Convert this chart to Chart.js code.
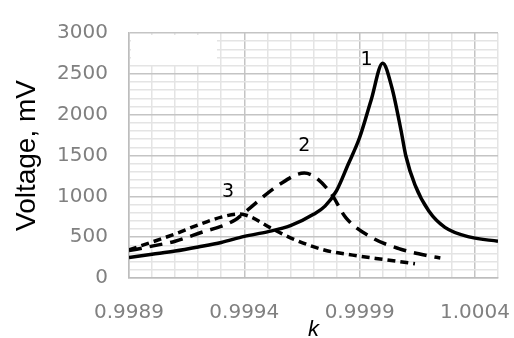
<!DOCTYPE html>
<html>
<head>
<meta charset="utf-8">
<script src="https://cdn.jsdelivr.net/npm/chart.js@4.4.1/dist/chart.umd.min.js"></script>
<style>
  html, body { margin: 0; padding: 0; background: #ffffff; }
  #wrap { width: 514px; height: 338px; position: relative; }
</style>
</head>
<body>
<div id="wrap"><canvas id="c" width="514" height="338"></canvas></div>
<script>
// ---- data ----
const k1 = [0.9989, 0.9990, 0.9991, 0.9992, 0.9993, 0.9994, 0.9995, 0.9996, 0.9997, 0.99975, 0.9998, 0.99985, 0.9999, 0.99995, 1.0000, 1.00004, 1.00008, 1.0001, 1.00014, 1.0002, 1.00027, 1.00038, 1.0005];
const v1 = [250, 290, 330, 380, 435, 510, 565, 640, 780, 880, 1070, 1390, 1720, 2180, 2630, 2330, 1800, 1500, 1140, 820, 620, 500, 450];

const k2 = [0.9989, 0.9990, 0.9991, 0.9992, 0.99936, 0.9994, 0.99955, 0.99966, 0.99977, 0.99984, 0.99995, 1.00007, 1.0002, 1.00025];
const v2 = [335, 390, 450, 545, 710, 800, 1140, 1285, 1060, 740, 500, 360, 270, 245];

const k3 = [0.9989, 0.9990, 0.9991, 0.9992, 0.9993, 0.99938, 0.99943, 0.99951, 0.99961, 0.99975, 0.99987, 0.99997, 1.00006, 1.00014];
const v3 = [345, 440, 540, 650, 745, 785, 745, 620, 480, 340, 280, 240, 205, 175];

const curveNames = ['1', '2', '3'];
const nameK = [0.99993, 0.99966, 0.99933];
const nameV = [2667, 1617, 1056];

const xTickLabels = [0.9989, 0.9994, 0.9999, 1.0004];
const xMin = 0.9989, xMax = 1.0005, xMinorStep = 0.0001;
const yTickLabels = [0, 500, 1000, 1500, 2000, 2500, 3000];
const yMin = 0, yMax = 3000, yMinorStep = 100;

function pts(ks, vs) { return ks.map((k, i) => ({ x: k, y: vs[i] })); }
function isMajorX(v) { return xTickLabels.some(t => Math.abs(t - v) < 1e-7); }
function isMajorY(v) { return yTickLabels.some(t => Math.abs(t - v) < 1e-7); }

const curveLabels = {
  id: 'curveLabels',
  beforeDatasetsDraw(chart) {
    // blank (erased) legend box in the top-left corner of the plot
    const a = chart.chartArea, ctx = chart.ctx;
    ctx.save();
    ctx.fillStyle = '#ffffff';
    ctx.fillRect(a.left + 2, a.top + 2, 86, 30);
    ctx.restore();
  },
  afterDatasetsDraw(chart) {
    const ctx = chart.ctx, xs = chart.scales.x, ys = chart.scales.y;
    ctx.save();
    ctx.font = '19px "DejaVu Sans", sans-serif';
    ctx.fillStyle = '#000000';
    ctx.textAlign = 'center';
    ctx.textBaseline = 'middle';
    curveNames.forEach((n, i) => {
      ctx.fillText(n, xs.getPixelForValue(nameK[i]), ys.getPixelForValue(nameV[i]));
    });
    ctx.restore();
  }
};

new Chart(document.getElementById('c'), {
  type: 'scatter',
  data: {
    datasets: [
      { label: '1', data: pts(k1, v1), showLine: true, borderColor: '#000', borderWidth: 3.5, pointRadius: 0, cubicInterpolationMode: 'monotone', fill: false },
      { label: '2', data: pts(k2, v2), showLine: true, borderColor: '#000', borderWidth: 3.5, borderDash: [13, 8], pointRadius: 0, cubicInterpolationMode: 'monotone', fill: false },
      { label: '3', data: pts(k3, v3), showLine: true, borderColor: '#000', borderWidth: 3.5, borderDash: [8, 5], pointRadius: 0, cubicInterpolationMode: 'monotone', fill: false }
    ]
  },
  options: {
    responsive: false,
    animation: false,
    devicePixelRatio: 1,
    layout: { padding: { top: 27, right: 16, bottom: 0, left: 0 } },
    plugins: { legend: { display: false }, tooltip: { enabled: false } },
    scales: {
      x: {
        type: 'linear',
        min: xMin, max: xMax,
        afterBuildTicks(scale) {
          const t = [];
          const n = Math.round((xMax - xMin) / xMinorStep);
          for (let i = 0; i <= n; i++) t.push({ value: Math.round((xMin + i * xMinorStep) * 1e5) / 1e5 });
          scale.ticks = t;
        },
        afterFit(scale) { scale.height = 60; scale.paddingLeft = 0; scale.paddingRight = 0; },
        ticks: {
          autoSkip: false,
          maxRotation: 0,
          padding: 23,
          color: '#808080',
          font: { family: '"DejaVu Sans", sans-serif', size: 20 },
          callback(v) { return isMajorX(v) ? v.toFixed(4) : ''; }
        },
        grid: {
          drawTicks: false,
          color(ctx) { return ctx.tick && isMajorX(ctx.tick.value) ? '#c4c4c4' : '#e4e4e4'; },
          lineWidth: 1.5
        },
        border: { color: '#bdbdbd', width: 1.5 },
        title: {
          display: true, text: 'k', color: '#000',
          font: { family: '"Liberation Sans", Arial, sans-serif', size: 22, style: 'italic' },
          padding: { top: 0, bottom: -5 }
        }
      },
      y: {
        type: 'linear',
        min: yMin, max: yMax,
        afterFit(scale) { scale.width = 129; },
        ticks: {
          stepSize: yMinorStep,
          autoSkip: false,
          padding: 21,
          color: '#808080',
          font: { family: '"DejaVu Sans", sans-serif', size: 20 },
          callback(v) { return isMajorY(v) ? String(v) : ''; }
        },
        grid: {
          drawTicks: false,
          color(ctx) { return ctx.tick && isMajorY(ctx.tick.value) ? '#c4c4c4' : '#e4e4e4'; },
          lineWidth: 1.5
        },
        border: { color: '#bdbdbd', width: 1.5 },
        title: {
          display: true, text: 'Voltage, mV', color: '#000',
          font: { family: '"Liberation Sans", Arial, sans-serif', size: 28 },
          padding: { top: 10, bottom: 0 }
        }
      }
    }
  },
  plugins: [curveLabels]
});
</script>
</body>
</html>
